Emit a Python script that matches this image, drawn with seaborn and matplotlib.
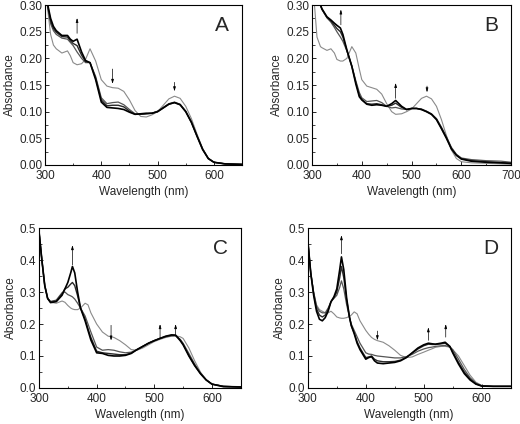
import matplotlib
matplotlib.use("Agg")
import matplotlib.pyplot as plt
from matplotlib.ticker import MultipleLocator
import seaborn as sns

# ---- panel A ----
wl_a = [300, 305, 310, 315, 320, 330, 340, 345, 350, 357, 365, 372, 380, 390, 400, 410, 420, 430, 440,
        450, 460, 470, 480, 490, 500, 510, 520, 530, 540, 550, 560, 570, 580, 590, 600, 620, 650]
a_start = [0.34, 0.29, 0.245, 0.225, 0.218, 0.21, 0.214, 0.205, 0.192, 0.188, 0.19, 0.198, 0.218, 0.195, 0.16,
           0.148, 0.145, 0.144, 0.138, 0.122, 0.102, 0.091, 0.09, 0.094, 0.1, 0.112, 0.124, 0.129, 0.125, 0.11,
           0.087, 0.058, 0.031, 0.013, 0.005, 0.002, 0.001]
a_mid1 = [0.35, 0.295, 0.265, 0.252, 0.245, 0.238, 0.236, 0.23, 0.224, 0.212, 0.2, 0.192, 0.192, 0.166, 0.126,
          0.115, 0.117, 0.118, 0.113, 0.104, 0.096, 0.095, 0.096, 0.097, 0.101, 0.108, 0.115, 0.118, 0.114, 0.101,
          0.081, 0.055, 0.03, 0.012, 0.005, 0.002, 0.001]
a_mid2 = [0.355, 0.298, 0.27, 0.256, 0.249, 0.241, 0.24, 0.233, 0.228, 0.224, 0.206, 0.194, 0.192, 0.163, 0.122,
          0.111, 0.112, 0.112, 0.109, 0.101, 0.095, 0.095, 0.096, 0.097, 0.1, 0.107, 0.114, 0.117, 0.113, 0.1,
          0.08, 0.054, 0.029, 0.012, 0.005, 0.002, 0.001]
a_end = [0.36, 0.3, 0.275, 0.26, 0.252, 0.243, 0.243, 0.236, 0.232, 0.236, 0.212, 0.196, 0.192, 0.16, 0.118,
         0.108, 0.107, 0.106, 0.104, 0.099, 0.095, 0.096, 0.097, 0.097, 0.1, 0.107, 0.114, 0.117, 0.113, 0.1,
         0.08, 0.054, 0.029, 0.012, 0.005, 0.002, 0.001]

# ---- panel B ----
wl_b = [300, 305, 310, 317, 320, 330, 338, 345, 350, 357, 362, 370, 380, 388, 395, 400, 410, 420, 430, 440,
        450, 460, 468, 480, 490, 500, 510, 520, 530, 540, 550, 560, 570, 580, 590, 600, 620, 650, 680, 700]
b_start = [0.36, 0.3, 0.24, 0.222, 0.22, 0.215, 0.218, 0.21, 0.198, 0.195, 0.195, 0.2, 0.222, 0.21, 0.18,
           0.16, 0.148, 0.145, 0.142, 0.133, 0.115, 0.1, 0.095, 0.096, 0.1, 0.105, 0.115, 0.125, 0.129, 0.124,
           0.11, 0.085, 0.055, 0.028, 0.012, 0.006, 0.004, 0.003, 0.002, 0.001]
b_mid1 = [0.38, 0.36, 0.33, 0.3, 0.292, 0.276, 0.268, 0.258, 0.25, 0.24, 0.232, 0.214, 0.186, 0.158, 0.136,
          0.126, 0.119, 0.12, 0.121, 0.117, 0.11, 0.107, 0.108, 0.105, 0.104, 0.106, 0.106, 0.105, 0.101, 0.096,
          0.087, 0.071, 0.053, 0.033, 0.02, 0.013, 0.01, 0.008, 0.007, 0.005]
b_mid2 = [0.38, 0.36, 0.33, 0.3, 0.292, 0.277, 0.27, 0.262, 0.256, 0.25, 0.24, 0.215, 0.185, 0.155, 0.131,
          0.123, 0.115, 0.114, 0.115, 0.113, 0.11, 0.112, 0.116, 0.108, 0.104, 0.106, 0.106, 0.104, 0.1, 0.095,
          0.086, 0.069, 0.051, 0.031, 0.019, 0.012, 0.008, 0.006, 0.004, 0.003]
b_end = [0.38, 0.36, 0.33, 0.3, 0.293, 0.278, 0.272, 0.266, 0.262, 0.257, 0.245, 0.216, 0.185, 0.152, 0.128,
         0.122, 0.114, 0.112, 0.113, 0.112, 0.11, 0.115, 0.121, 0.11, 0.104, 0.106, 0.106, 0.104, 0.1, 0.095,
         0.085, 0.068, 0.05, 0.03, 0.018, 0.011, 0.007, 0.005, 0.004, 0.003]

# ---- panel C ----
wl_c = [300, 305, 310, 315, 320, 330, 340, 345, 350, 355, 358, 362, 367, 372, 380, 385, 390, 400, 410, 420,
        430, 440, 450, 460, 470, 480, 490, 500, 510, 520, 530, 537, 545, 550, 560, 570, 580, 590, 600, 620, 650]
c_start = [0.49, 0.4, 0.32, 0.28, 0.268, 0.265, 0.272, 0.268, 0.258, 0.25, 0.247, 0.245, 0.245, 0.25, 0.265,
           0.26, 0.235, 0.2, 0.175, 0.162, 0.158, 0.148, 0.135, 0.12, 0.118, 0.125, 0.135, 0.145, 0.152, 0.158,
           0.162, 0.163, 0.16, 0.155, 0.125, 0.085, 0.05, 0.025, 0.012, 0.006, 0.004]
c_mid1 = [0.49, 0.4, 0.32, 0.28, 0.27, 0.275, 0.298, 0.3, 0.292, 0.288, 0.285, 0.278, 0.265, 0.25, 0.225,
          0.2, 0.175, 0.128, 0.118, 0.12, 0.118, 0.113, 0.11, 0.112, 0.12, 0.13, 0.14, 0.148, 0.155, 0.16,
          0.163, 0.163, 0.152, 0.14, 0.108, 0.075, 0.047, 0.026, 0.012, 0.005, 0.003]
c_mid2 = [0.49, 0.4, 0.32, 0.28, 0.27, 0.272, 0.295, 0.31, 0.315, 0.325, 0.33, 0.32, 0.288, 0.25, 0.215,
          0.185, 0.158, 0.115, 0.11, 0.108, 0.106, 0.104, 0.104, 0.109, 0.12, 0.13, 0.14, 0.148, 0.155, 0.161,
          0.165, 0.165, 0.15, 0.137, 0.102, 0.071, 0.045, 0.025, 0.012, 0.005, 0.003]
c_end = [0.49, 0.4, 0.32, 0.28, 0.267, 0.27, 0.29, 0.31, 0.33, 0.36, 0.38, 0.36, 0.3, 0.25, 0.21,
         0.18, 0.15, 0.11, 0.108, 0.102, 0.1, 0.1, 0.102, 0.108, 0.12, 0.13, 0.14, 0.148, 0.155, 0.162,
         0.166, 0.165, 0.148, 0.135, 0.1, 0.07, 0.045, 0.025, 0.012, 0.004, 0.003]

# ---- panel D ----
wl_d = [300, 305, 310, 315, 320, 325, 330, 335, 340, 345, 350, 355, 358, 362, 367, 372, 375, 380, 385, 390,
        400, 405, 410, 415, 420, 430, 440, 450, 460, 470, 480, 490, 500, 508, 515, 520, 530, 537, 545, 550,
        560, 570, 580, 590, 600, 620, 650]
d_start = [0.46, 0.36, 0.3, 0.26, 0.245, 0.24, 0.235, 0.235, 0.24, 0.232, 0.222, 0.219, 0.218, 0.218, 0.22,
           0.224, 0.228, 0.238, 0.232, 0.21, 0.18, 0.168, 0.158, 0.152, 0.148, 0.143, 0.132, 0.118, 0.102, 0.095,
           0.097, 0.105, 0.112, 0.118, 0.123, 0.127, 0.13, 0.13, 0.128, 0.12, 0.1, 0.07, 0.04, 0.018, 0.008,
           0.005, 0.005]
d_mid1 = [0.46, 0.36, 0.3, 0.255, 0.24, 0.235, 0.235, 0.25, 0.27, 0.28, 0.29, 0.315, 0.335, 0.31, 0.26,
          0.22, 0.2, 0.18, 0.16, 0.14, 0.11, 0.106, 0.105, 0.102, 0.1, 0.098, 0.096, 0.094, 0.094, 0.098,
          0.105, 0.115, 0.122, 0.126, 0.128, 0.13, 0.132, 0.133, 0.128, 0.12, 0.09, 0.058, 0.032, 0.015, 0.007,
          0.005, 0.005]
d_mid2 = [0.46, 0.36, 0.295, 0.248, 0.228, 0.222, 0.228, 0.245, 0.27, 0.283, 0.3, 0.345, 0.38, 0.345, 0.275,
          0.22, 0.195, 0.172, 0.145, 0.125, 0.095, 0.097, 0.1, 0.09, 0.085, 0.082, 0.082, 0.083, 0.087, 0.096,
          0.109, 0.122, 0.132, 0.137, 0.136, 0.136, 0.138, 0.14, 0.13, 0.113, 0.08, 0.05, 0.028, 0.013, 0.006,
          0.005, 0.005]
d_end = [0.46, 0.36, 0.29, 0.24, 0.215, 0.21, 0.22, 0.24, 0.27, 0.285, 0.31, 0.37, 0.41, 0.37, 0.28,
         0.22, 0.195, 0.17, 0.14, 0.12, 0.09, 0.095, 0.098, 0.085, 0.078, 0.076, 0.078, 0.08, 0.085, 0.095,
         0.11, 0.125, 0.135, 0.14, 0.138, 0.137, 0.14, 0.143, 0.13, 0.11, 0.075, 0.045, 0.025, 0.012, 0.006,
         0.005, 0.005]

# arrows: (x, y_tail, y_head)
arrows_a = [(357, 0.247, 0.276), (420, 0.18, 0.152), (530, 0.155, 0.138)]
arrows_b = [(358, 0.263, 0.292), (468, 0.125, 0.154), (531, 0.148, 0.136)]
arrows_c = [(358, 0.385, 0.447), (425, 0.196, 0.148), (510, 0.156, 0.2), (537, 0.167, 0.2)]
arrows_d = [(358, 0.42, 0.478), (420, 0.178, 0.149), (508, 0.149, 0.19), (538, 0.159, 0.2)]

sns.set_style("white")
plt.rcParams['font.family'] = ['Liberation Sans', 'DejaVu Sans']

fig = plt.figure(figsize=(5.2, 4.24), dpi=100)

panels = [
    ("A", [0.0865, 0.611, 0.379, 0.377], wl_a, [a_start, a_mid1, a_mid2, a_end], (300, 650), (0, 0.30), 0.05, arrows_a),
    ("B", [0.600, 0.611, 0.383, 0.377], wl_b, [b_start, b_mid1, b_mid2, b_end], (300, 700), (0, 0.30), 0.05, arrows_b),
    ("C", [0.075, 0.085, 0.388, 0.377], wl_c, [c_start, c_mid1, c_mid2, c_end], (300, 650), (0, 0.5), 0.1, arrows_c),
    ("D", [0.592, 0.085, 0.390, 0.377], wl_d, [d_start, d_mid1, d_mid2, d_end], (300, 650), (0, 0.5), 0.1, arrows_d),
]
colors = ['#8a8a8a', '#555555', '#2a2a2a', '#000000']
widths = [0.8, 0.9, 1.0, 1.2]

for letter, pos, wl, curves, xl, yl, ystep, arrs in panels:
    ax = fig.add_axes(pos)
    for vals, c, lw in zip(curves, colors, widths):
        sns.lineplot(x=wl, y=vals, ax=ax, color=c, lw=lw)
    for x, y0, y1 in arrs:
        ax.annotate('', xy=(x, y1), xytext=(x, y0),
                    arrowprops=dict(arrowstyle='-|>,head_length=0.25,head_width=0.07',
                                    color='black', lw=0.5, shrinkA=0, shrinkB=0))
    ax.set_xlim(*xl)
    ax.set_ylim(*yl)
    ax.xaxis.set_major_locator(MultipleLocator(100))
    ax.xaxis.set_minor_locator(MultipleLocator(50))
    ax.yaxis.set_major_locator(MultipleLocator(ystep))
    ax.yaxis.set_minor_locator(MultipleLocator(ystep / 2))
    if ystep == 0.05:
        ax.yaxis.set_major_formatter(plt.FormatStrFormatter('%.2f'))
    else:
        ax.yaxis.set_major_formatter(plt.FormatStrFormatter('%.1f'))
    ax.tick_params(which='both', direction='in', bottom=True, left=True, labelsize=8.5)
    ax.tick_params(axis='x', pad=3.5)
    ax.tick_params(axis='y', pad=2)
    ax.tick_params(which='major', length=3, width=0.7)
    ax.tick_params(which='minor', length=1.8, width=0.6)
    for s in ax.spines.values():
        s.set_color('black')
        s.set_linewidth(0.8)
    ax.set_xlabel('Wavelength (nm)', fontsize=8.5, labelpad=3)
    ax.set_ylabel('Absorbance', fontsize=8.5, labelpad=2)
    ax.text(0.9, 0.875, letter, transform=ax.transAxes, fontsize=15, ha='center', va='center')

fig.savefig('out.png', dpi=100)
